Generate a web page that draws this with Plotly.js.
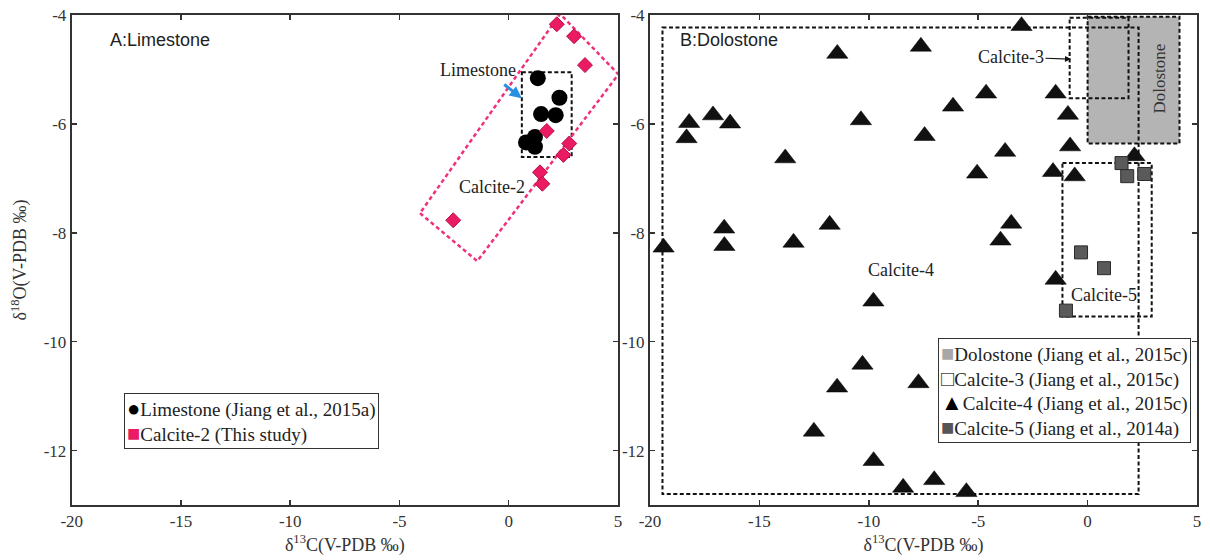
<!DOCTYPE html>
<html>
<head>
<meta charset="utf-8">
<script src="https://cdn.plot.ly/plotly-3.0.1.min.js"></script>
<style>html,body{margin:0;padding:0;background:#fff;}#chart{width:1210px;height:560px;}</style>
</head>
<body>
<div id="chart"></div>
<script>
// ---- Panel A data ----
const limestoneX = [1.33, 2.32, 1.48, 2.15, 0.79, 1.20, 1.20];
const limestoneY = [-5.16, -5.52, -5.82, -5.84, -6.34, -6.24, -6.42];
const calcite2X = [2.20, 2.99, 3.49, 1.74, 2.77, 2.50, 1.43, 1.54, -2.54];
const calcite2Y = [-4.17, -4.39, -4.92, -6.13, -6.36, -6.57, -6.89, -7.10, -7.77];

// ---- Panel B data ----
const calcite4X = [-3.02, -7.62, -11.44, -18.21, -18.33, -17.12, -16.34, -10.36, -7.45, -13.82,
  -6.15, -4.64, -1.46, -0.90, -0.80, -3.77, -5.05, -1.58, -0.59, 2.14,
  -3.49, -3.98, -11.79, -13.44, -16.61, -16.60, -19.38, -9.79, -1.46,
  -10.29, -11.45, -7.73, -12.51, -9.78, -8.43, -7.01, -5.54];
const calcite4Y = [-4.20, -4.58, -4.71, -5.98, -6.26, -5.84, -5.99, -5.93, -6.22, -6.63,
  -5.68, -5.44, -5.44, -5.83, -6.41, -6.51, -6.91, -6.88, -6.96, -6.59,
  -7.83, -8.14, -7.85, -8.18, -7.92, -8.24, -8.27, -9.26, -8.86,
  -10.42, -10.84, -10.76, -11.65, -12.19, -12.68, -12.54, -12.76];
const calcite5X = [1.55, 1.81, 2.59, -0.30, 0.75, -0.99];
const calcite5Y = [-6.72, -6.96, -6.92, -8.36, -8.65, -9.43];

// ---- Field boxes (data units: [x0, x1, y0, y1]) ----
const limestoneField = [0.60, 2.88, -5.05, -6.61];
const calcite2FieldX = [-4.06, -1.44, 5.02, 2.35];
const calcite2FieldY = [-7.64, -8.52, -5.09, -3.98];
const calcite4Field = [-19.43, 2.33, -4.23, -12.80];
const dolostoneField = [0.0, 4.2, -4.03, -6.36];
const calcite3Field = [-0.82, 1.87, -4.05, -5.53];
const calcite5Field = [-1.15, 2.93, -6.72, -9.54];

// ---- Tick labels ----
const xTickVals = [-20, -15, -10, -5, 0, 5];
const xTickText = ['-20', '-15', '-10', '-5', '0', '5'];
const yTickVals = [-12, -10, -8, -6, -4];
const yTickText = ['-12', '-10', '-8', '-6', '-4'];

// ---- Legend entries ----
const legendA = ['Limestone (Jiang et al., 2015a)', 'Calcite-2 (This study)'];
const legendASymbols = ['●', '■'];
const legendAColors = ['#000', '#ea1a63'];
const legendB = ['Dolostone (Jiang et al., 2015c)', 'Calcite-3 (Jiang et al., 2015c)',
  'Calcite-4 (Jiang et al., 2015c)', 'Calcite-5 (Jiang et al., 2014a)'];
const legendBSymbols = ['■', '□', '▲', '■'];
const legendBColors = ['#a8a8a8', '#444', '#000', '#555'];

const SERIF = 'Liberation Serif, Times New Roman, serif';
const SANS = 'Liberation Sans, Arial, sans-serif';
const PINK = '#ea1a63';

const traces = [
  {x: limestoneX, y: limestoneY, xaxis: 'x', yaxis: 'y', mode: 'markers', type: 'scatter',
   name: legendA[0], showlegend: false,
   marker: {symbol: 'circle', size: 16, color: '#000'}},
  {x: calcite2X, y: calcite2Y, xaxis: 'x', yaxis: 'y', mode: 'markers', type: 'scatter',
   name: legendA[1], showlegend: false,
   marker: {symbol: 'diamond', size: 11.5, color: PINK, line: {color: '#b8124a', width: 1}}},
  {x: calcite4X, y: calcite4Y, xaxis: 'x2', yaxis: 'y2', mode: 'markers', type: 'scatter',
   name: legendB[2], showlegend: false,
   marker: {symbol: 'triangle-up', size: 18.5, color: '#111', line: {color: '#000', width: 0.5}}},
  {x: calcite5X, y: calcite5Y, xaxis: 'x2', yaxis: 'y2', mode: 'markers', type: 'scatter',
   name: legendB[3], showlegend: false,
   marker: {symbol: 'square', size: 13, color: '#5a5a5a', line: {color: '#2a2a2a', width: 1}}}
];

function boxShape(b, xr, yr, opts) {
  return Object.assign({type: 'rect', xref: xr, yref: yr, x0: b[0], x1: b[1], y0: b[2], y1: b[3],
    layer: 'below', line: {color: '#111', width: 2, dash: '4px,2.5px'}, fillcolor: 'rgba(0,0,0,0)'}, opts || {});
}
function pathFrom(xs, ys) {
  return 'M' + xs.map((v, i) => v + ',' + ys[i]).join('L') + 'Z';
}

const shapes = [
  boxShape(limestoneField, 'x', 'y'),
  {type: 'path', xref: 'x', yref: 'y', path: pathFrom(calcite2FieldX, calcite2FieldY), layer: 'below',
   line: {color: '#f0307c', width: 2.5, dash: '4px,3px'}},
  boxShape(dolostoneField, 'x2', 'y2', {fillcolor: '#b4b4b4'}),
  boxShape(calcite4Field, 'x2', 'y2'),
  boxShape(calcite3Field, 'x2', 'y2'),
  boxShape(calcite5Field, 'x2', 'y2')
];

function legendText(names, syms, cols) {
  return names.map((n, i) => '<span style="color:' + cols[i] + ';font-size:22px">' + syms[i] + '</span>' + n).join('<br>');
}

const annFont = {family: SERIF, size: 18, color: '#222'};
const annotations = [
  {xref: 'paper', yref: 'paper', x: 0.0893, y: 0.949, xanchor: 'left', yanchor: 'middle', showarrow: false,
   text: 'A:Limestone', font: {family: SANS, size: 18, color: '#222'}},
  {xref: 'paper', yref: 'paper', x: 0.5603, y: 0.949, xanchor: 'left', yanchor: 'middle', showarrow: false,
   text: 'B:Dolostone', font: {family: SANS, size: 18, color: '#222'}},
  {xref: 'x', yref: 'y', x: -1.40, y: -5.01, showarrow: false, text: 'Limestone', font: annFont},
  {xref: 'x', yref: 'y', x: 0.595, y: -5.53, ax: -19, ay: -15, text: '', showarrow: true,
   arrowcolor: '#2b8fe0', arrowwidth: 3, arrowhead: 2, arrowsize: 0.8},
  {xref: 'x', yref: 'y', x: -0.78, y: -7.16, showarrow: false, text: 'Calcite-2', font: annFont},
  {xref: 'x2', yref: 'y2', x: -8.53, y: -8.68, showarrow: false, text: 'Calcite-4', font: annFont},
  {xref: 'x2', yref: 'y2', x: 0.77, y: -9.15, showarrow: false, text: 'Calcite-5', font: annFont},
  {xref: 'x2', yref: 'y2', x: 3.3, y: -5.17, showarrow: false, text: 'Dolostone', textangle: -90,
   font: {family: SERIF, size: 17, color: '#333'}},
  {xref: 'x2', yref: 'y2', x: -0.76, y: -4.81, ax: -60, ay: -2, text: 'Calcite-3', showarrow: true,
   arrowcolor: '#111', arrowwidth: 1.2, arrowhead: 2, arrowsize: 1, font: annFont},
  // legends
  {xref: 'paper', yref: 'paper', x: 0.1025, y: 0.2286, xanchor: 'left', yanchor: 'top', showarrow: false,
   align: 'left', text: legendText(legendA, legendASymbols, legendAColors),
   font: {family: SERIF, size: 19, color: '#222'}, bgcolor: '#fff', bordercolor: '#333', borderwidth: 1, borderpad: 2},
  {xref: 'paper', yref: 'paper', x: 0.7752, y: 0.3408, xanchor: 'left', yanchor: 'top', showarrow: false,
   align: 'left', text: legendText(legendB, legendBSymbols, legendBColors),
   font: {family: SERIF, size: 19, color: '#222'}, bgcolor: '#fff', bordercolor: '#333', borderwidth: 1, borderpad: 2}
];

const axisCommon = {
  showline: true, linecolor: '#333', linewidth: 2, mirror: 'ticks', ticks: 'inside', ticklen: 5,
  tickwidth: 1.5, tickcolor: '#333', showgrid: false, zeroline: false,
  tickfont: {family: SERIF, size: 17, color: '#333'}
};
const xTitle = {text: 'δ<sup>13</sup>C(V-PDB ‰)', font: {family: SERIF, size: 18, color: '#333'}, standoff: 8};

const layout = {
  width: 1210, height: 560,
  margin: {l: 0, r: 0, t: 15, b: 55},
  paper_bgcolor: '#fff', plot_bgcolor: '#fff',
  showlegend: false,
  xaxis: Object.assign({}, axisCommon, {domain: [0.05926, 0.51074], range: [-20, 5], tickvals: xTickVals, ticktext: xTickText, title: xTitle, anchor: 'y'}),
  yaxis: Object.assign({}, axisCommon, {domain: [0, 1], range: [-13, -4], tickvals: yTickVals, ticktext: yTickText, anchor: 'x',
    title: {text: 'δ<sup>18</sup>O(V-PDB ‰)', font: {family: SERIF, size: 18, color: '#333'}, standoff: 12}}),
  xaxis2: Object.assign({}, axisCommon, {domain: [0.5372, 0.98926], range: [-20, 5], tickvals: xTickVals, ticktext: xTickText, title: xTitle, anchor: 'y2'}),
  yaxis2: Object.assign({}, axisCommon, {domain: [0, 1], range: [-13, -4], tickvals: yTickVals, ticktext: yTickText, anchor: 'x2'}),
  shapes: shapes,
  annotations: annotations
};

Plotly.newPlot('chart', traces, layout, {displayModeBar: false, staticPlot: true});
</script>
</body>
</html>
